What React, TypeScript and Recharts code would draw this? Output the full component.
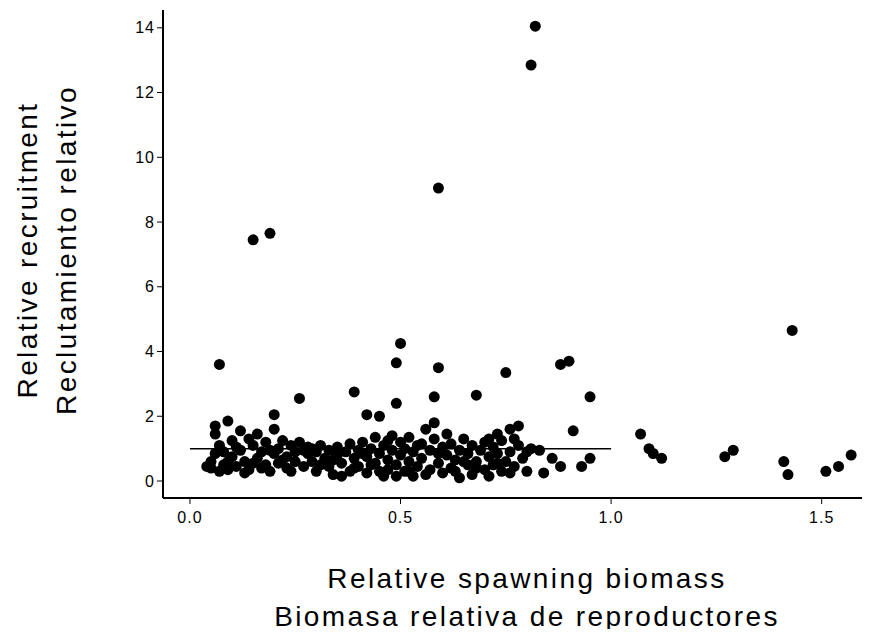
import { ScatterChart, Scatter, XAxis, YAxis, ReferenceLine } from "recharts";

// [relative spawning biomass, relative recruitment]
const points: [number, number][] = [
  [0.15, 7.45], [0.19, 7.65], [0.59, 9.05], [0.81, 12.85], [0.82, 14.05],
  [0.07, 3.6], [0.5, 4.25], [0.49, 3.65], [0.59, 3.5], [0.39, 2.75],
  [0.26, 2.55], [0.42, 2.05], [0.45, 2.0], [0.49, 2.4], [0.68, 2.65],
  [0.75, 3.35], [0.88, 3.6], [0.9, 3.7], [0.95, 2.6], [0.91, 1.55],
  [0.2, 2.05], [0.58, 2.6], [1.43, 4.65], [1.07, 1.45], [1.09, 1.0],
  [1.1, 0.85], [1.12, 0.7], [1.27, 0.75], [1.29, 0.95], [1.41, 0.6],
  [1.42, 0.2], [1.51, 0.3], [1.54, 0.45], [1.57, 0.8], [0.86, 0.7],
  [0.88, 0.45], [0.93, 0.45], [0.95, 0.7], [0.84, 0.25], [0.81, 1.0],
  [0.83, 0.95], [0.78, 1.7], [0.76, 1.6], [0.73, 1.45], [0.71, 1.3],
  [0.05, 0.4], [0.05, 0.6], [0.06, 1.7], [0.06, 1.45], [0.07, 1.1],
  [0.07, 0.3], [0.08, 0.9], [0.08, 0.5], [0.09, 1.85], [0.09, 0.35],
  [0.1, 1.25], [0.1, 0.75], [0.11, 0.45], [0.12, 1.55], [0.12, 0.95],
  [0.13, 0.6], [0.14, 1.3], [0.14, 0.35], [0.15, 1.1], [0.16, 0.7],
  [0.16, 1.45], [0.17, 0.9], [0.18, 0.5], [0.18, 1.2], [0.19, 0.3],
  [0.2, 1.6], [0.2, 0.85], [0.21, 1.0], [0.21, 0.55], [0.22, 1.25],
  [0.23, 0.75], [0.23, 0.4], [0.24, 1.1], [0.25, 0.9], [0.25, 0.6],
  [0.26, 1.2], [0.27, 0.45], [0.28, 0.85], [0.28, 1.05], [0.29, 0.6],
  [0.3, 0.9], [0.3, 0.3], [0.31, 1.1], [0.32, 0.7], [0.33, 0.45],
  [0.33, 0.95], [0.34, 0.2], [0.35, 0.8], [0.35, 1.05], [0.36, 0.55],
  [0.37, 0.9], [0.38, 0.3], [0.38, 1.15], [0.39, 0.7], [0.4, 0.95],
  [0.4, 0.45], [0.41, 1.2], [0.42, 0.75], [0.42, 0.25], [0.43, 1.0],
  [0.44, 0.55], [0.44, 1.35], [0.45, 0.85], [0.46, 0.15], [0.46, 1.1],
  [0.47, 0.65], [0.47, 0.35], [0.48, 0.95], [0.48, 1.4], [0.49, 0.5],
  [0.5, 0.8], [0.5, 1.2], [0.51, 0.3], [0.51, 1.0], [0.52, 0.6],
  [0.52, 1.35], [0.53, 0.15], [0.53, 0.9], [0.54, 0.45], [0.55, 1.15],
  [0.55, 0.7], [0.56, 1.6], [0.57, 0.35], [0.57, 0.95], [0.58, 1.3],
  [0.58, 1.8], [0.59, 0.55], [0.6, 1.05], [0.6, 0.25], [0.61, 0.8],
  [0.61, 1.45], [0.62, 0.4], [0.62, 1.15], [0.63, 0.65], [0.64, 0.95],
  [0.64, 0.1], [0.65, 1.3], [0.66, 0.5], [0.66, 0.85], [0.67, 0.2],
  [0.67, 1.1], [0.68, 0.6], [0.69, 0.95], [0.7, 0.35], [0.7, 1.2],
  [0.71, 0.75], [0.72, 0.5], [0.72, 1.05], [0.73, 0.85], [0.74, 0.3],
  [0.74, 1.25], [0.75, 0.6], [0.76, 0.9], [0.77, 0.45], [0.78, 1.1],
  [0.79, 0.7], [0.8, 0.3], [0.8, 0.9], [0.06, 0.85], [0.11, 1.05],
  [0.13, 0.25], [0.17, 0.4], [0.22, 0.65], [0.24, 0.3], [0.27, 0.95],
  [0.31, 0.5], [0.34, 0.65], [0.36, 0.15], [0.39, 0.4], [0.43, 0.5],
  [0.45, 0.3], [0.49, 0.15], [0.52, 0.3], [0.54, 1.1], [0.56, 0.2],
  [0.59, 0.85], [0.63, 0.3], [0.65, 0.6], [0.68, 0.4], [0.71, 0.15],
  [0.73, 0.55], [0.76, 0.25], [0.77, 1.3], [0.47, 1.25], [0.41, 0.85],
  [0.29, 1.0], [0.19, 0.95], [0.09, 0.6], [0.04, 0.45], [0.15, 0.55],
];

const xTicks = [0, 0.5, 1.0, 1.5];
const yTicks = [0, 2, 4, 6, 8, 10, 12, 14];
const data = points.map(([x, y]) => ({ x, y }));

const font = "Liberation Sans, Arial, sans-serif";
const labelFont = { fontFamily: font, fontSize: 28, fill: "#000", letterSpacing: 2.4 };

export default function App() {
  return (
    <div style={{ margin: -8, width: 870, height: 637, background: "#fff" }}>
      <ScatterChart width={870} height={637} margin={{ top: 10, right: 2, bottom: 0, left: 0 }}>
        <XAxis
          type="number"
          dataKey="x"
          domain={[-0.064, 1.61]}
          ticks={xTicks}
          tickFormatter={(v) => v.toFixed(1)}
          allowDataOverflow
          axisLine={{ stroke: "#000", strokeWidth: 2 }}
          tickLine={{ stroke: "#000" }}
          tickSize={6}
          tick={{ fill: "#000", fontSize: 16, fontFamily: font, dy: 6, letterSpacing: 1 }}
          height={139}
        />
        <YAxis
          type="number"
          dataKey="y"
          domain={[-0.525, 14.55]}
          ticks={yTicks}
          allowDataOverflow
          axisLine={{ stroke: "#000", strokeWidth: 2 }}
          tickLine={{ stroke: "#000" }}
          tickSize={6}
          tick={{ fill: "#000", fontSize: 16, fontFamily: font, letterSpacing: 1 }}
          width={163}
        />
        <ReferenceLine segment={[{ x: 0, y: 1 }, { x: 1, y: 1 }]} stroke="#000" strokeWidth={1.5} />
        <Scatter
          data={data}
          fill="#000"
          isAnimationActive={false}
          shape={(p: any) => <circle cx={p.cx} cy={p.cy} r={5.5} fill="#000" />}
        />
        <text x={527} y={588} textAnchor="middle" style={labelFont}>Relative spawning biomass</text>
        <text x={527} y={626} textAnchor="middle" style={labelFont}>Biomasa relativa de reproductores</text>
        <text x={37} y={250} textAnchor="middle" transform="rotate(-90 37 250)" style={labelFont}>Relative recruitment</text>
        <text x={76} y={250} textAnchor="middle" transform="rotate(-90 76 250)" style={labelFont}>Reclutamiento relativo</text>
      </ScatterChart>
    </div>
  );
}
